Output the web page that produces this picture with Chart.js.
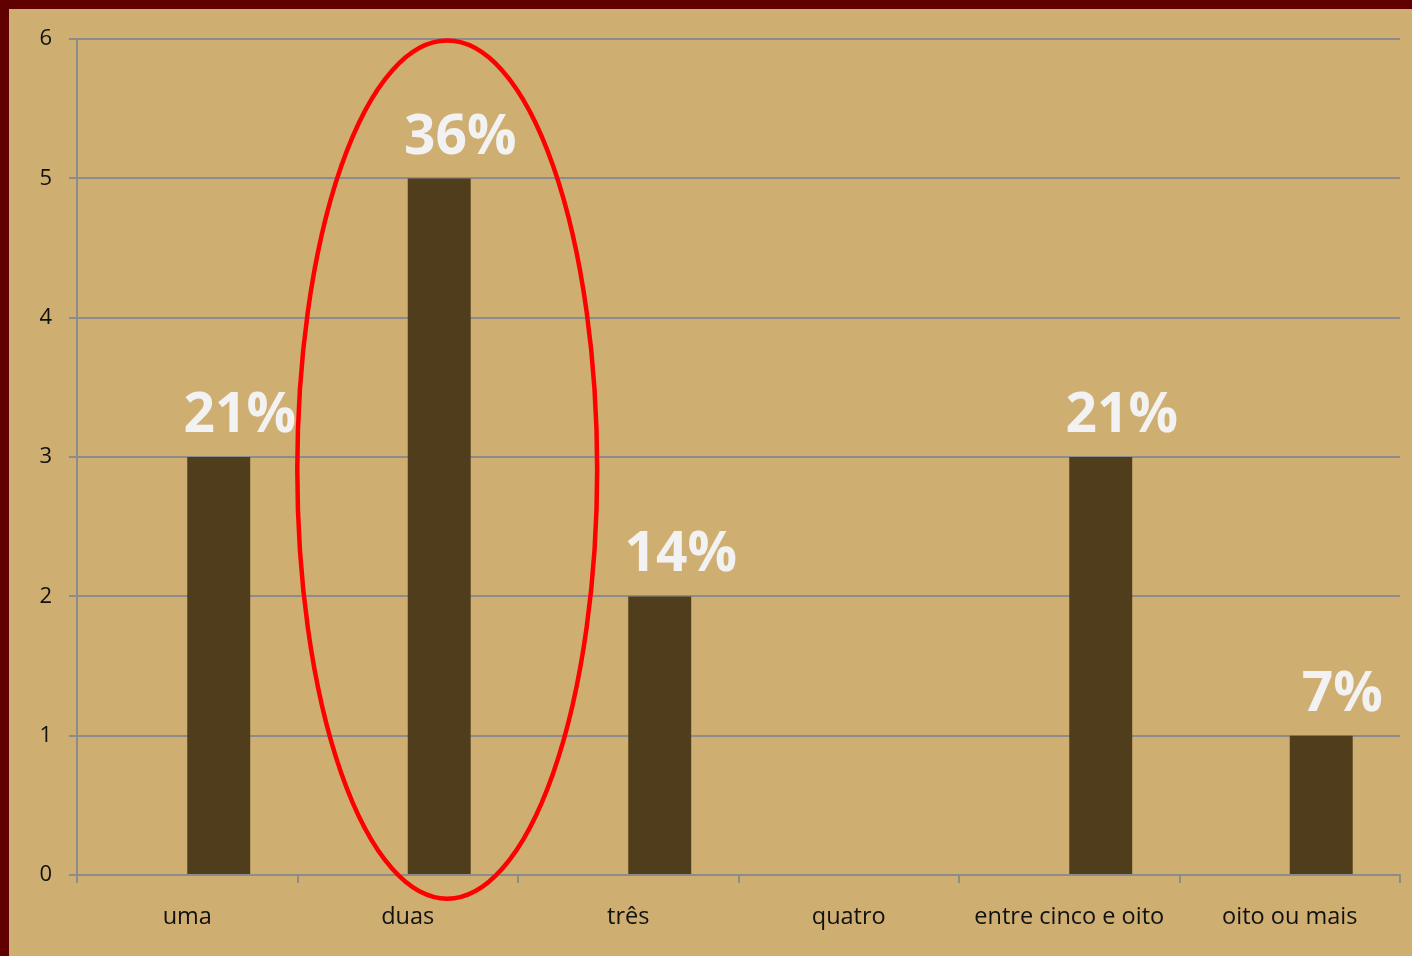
<!DOCTYPE html>
<html>
<head>
<meta charset="utf-8">
<script src="https://cdn.jsdelivr.net/npm/chart.js@4/dist/chart.umd.min.js"></script>
<style>
  html, body { margin: 0; padding: 0; background: #600000; }
  #wrap { position: absolute; left: 9px; top: 9px; width: 1403px; height: 947px; background: #CFAE72; }
</style>
</head>
<body>
<div id="wrap"><canvas id="grafico"></canvas></div>
<script>
const categorias = ['uma', 'duas', 'três', 'quatro', 'entre cinco e oito', 'oito ou mais'];
const quantidades = [3, 5, 2, 0, 3, 1];
const percentuais = ['21%', '36%', '14%', '', '21%', '7%'];
const vazio = [null, null, null, null, null, null];
const yTicks = [0, 1, 2, 3, 4, 5, 6];

// rótulos de porcentagem acima das barras
const rotulos = {
  id: 'rotulos',
  afterDatasetsDraw(chart) {
    const { ctx } = chart;
    const meta = chart.getDatasetMeta(1);
    ctx.save();
    ctx.font = 'bold 55px "Open Sans"';
    ctx.fillStyle = '#F2F2F2';
    ctx.textAlign = 'center';
    ctx.textBaseline = 'alphabetic';
    meta.data.forEach((bar, i) => {
      if (!percentuais[i]) return;
      ctx.fillText(percentuais[i], bar.x + 21, bar.y - 25);
    });
    ctx.restore();
  }
};

// elipse vermelha em volta de "duas"
const elipse = {
  id: 'elipse',
  afterDraw(chart) {
    const { ctx, scales: { x, y } } = chart;
    const bar = chart.getDatasetMeta(1).data[1];
    const cat = x.getPixelForValue(1) - x.getPixelForValue(0);
    const cx = bar.x + 8;
    const cy = y.getPixelForValue(2.91);
    const ry = y.getPixelForValue(0) - y.getPixelForValue(3.08);
    const rx = cat * 0.68;
    ctx.save();
    ctx.strokeStyle = '#FF0000';
    ctx.lineWidth = 4.5;
    ctx.beginPath();
    ctx.ellipse(cx, cy, rx, ry, 0, 0, Math.PI * 2);
    ctx.stroke();
    ctx.restore();
  }
};

const chart = new Chart(document.getElementById('grafico'), {
  type: 'bar',
  data: {
    labels: categorias,
    datasets: [
      { data: vazio, backgroundColor: 'transparent' },
      { data: quantidades, backgroundColor: '#4F3D1B' }
    ]
  },
  options: {
    responsive: true,
    maintainAspectRatio: false,
    animation: false,
    layout: { padding: { left: 0, right: 12, top: 30, bottom: 0 } },
    plugins: { legend: { display: false }, tooltip: { enabled: false } },
    datasets: { bar: { barPercentage: 1, categoryPercentage: 0.571 } },
    scales: {
      x: {
        grid: { display: true, drawOnChartArea: false, drawTicks: true, tickLength: 8, color: '#8C8C8C', lineWidth: 2, offset: true },
        border: { color: '#8C8C8C', width: 2 },
        ticks: { color: '#111', font: { family: 'Open Sans', size: 23.5 }, padding: 20, maxRotation: 0 },
        afterFit(s) { s.height = 81; }
      },
      y: {
        min: 0, max: 6,
        afterBuildTicks(s) { s.ticks = yTicks.map(v => ({ value: v })); },
        grid: { color: '#8C8C8C', lineWidth: 2, tickLength: 8 },
        border: { color: '#8C8C8C', width: 2 },
        ticks: { color: '#111', font: { family: 'Open Sans', size: 22 }, padding: 17 },
        afterFit(s) { s.width = 68; }
      }
    }
  },
  plugins: [rotulos, elipse]
});
</script>
</body>
</html>
